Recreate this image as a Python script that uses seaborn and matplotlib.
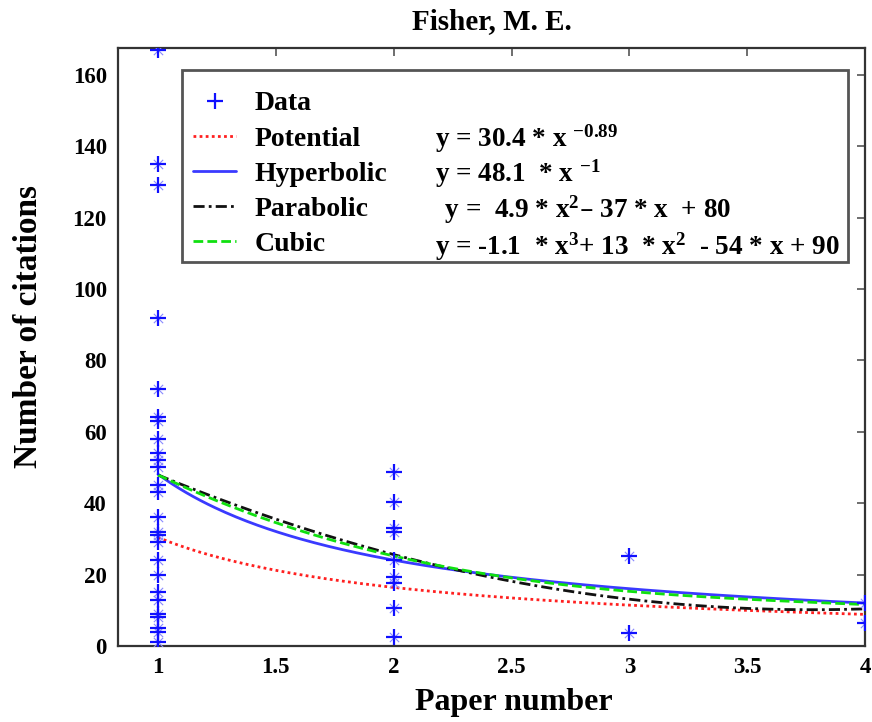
import numpy as np
import pandas as pd
import matplotlib
matplotlib.use("Agg")
import matplotlib.pyplot as plt
import seaborn as sns
from matplotlib.lines import Line2D
from matplotlib.patches import Rectangle

# ---- data ----
paper_x1 = [1] * 26
cites_x1 = [167, 135, 129, 92, 72, 64, 63, 58, 54, 52, 50, 45, 43, 36, 32, 31,
            29, 24, 20, 15, 13, 9, 8, 5, 4, 1]
paper_x2 = [2] * 9
cites_x2 = [48.8, 40.4, 33, 32, 24, 19.4, 17.6, 10.6, 2.6]
paper_x3 = [3, 3]
cites_x3 = [25.3, 3.6]
paper_x4 = [4, 4]
cites_x4 = [12, 6.4]

# fit coefficients (from legend)
pot_coef = [30.4, -0.89]
hyp_coef = [48.1]
par_coef = [4.9, -37, 80]
cub_coef = [-1.1, 13, -54, 90]

series_names = ["Potential", "Hyperbolic", "Parabolic", "Cubic"]
equations = [r"y = 30.4 * x $^{-0.89}$",
             r"y = 48.1  * x $^{-1}$",
             r" y =  4.9 * x$^{2}$– 37 * x  + 80",
             r"y = -1.1  * x$^{3}$+ 13  * x$^{2}$  - 54 * x + 90"]

data = pd.DataFrame({
    "paper": paper_x1 + paper_x2 + paper_x3 + paper_x4,
    "cites": cites_x1 + cites_x2 + cites_x3 + cites_x4,
})

xs = np.linspace(1, 4, 200)
fits = pd.DataFrame({
    "x": np.tile(xs, 4),
    "y": np.concatenate([
        pot_coef[0] * xs ** pot_coef[1],
        hyp_coef[0] / xs,
        np.polyval(par_coef, xs),
        np.polyval(cub_coef, xs),
    ]),
    "fit": np.repeat(series_names, len(xs)),
})

sns.set_theme(style="white")
plt.rcParams["font.family"] = ["Liberation Serif", "DejaVu Serif"]
plt.rcParams["mathtext.default"] = "regular"
plt.rcParams["text.color"] = "black"
plt.rcParams["axes.labelcolor"] = "black"
plt.rcParams["xtick.color"] = "black"
plt.rcParams["ytick.color"] = "black"

fig = plt.figure(figsize=(8.72, 7.22), dpi=100)
ax = fig.add_axes([0.1353, 0.1053, 0.8567, 0.8282])

styles = {
    "Potential": dict(color="#ff2020", ls=(0, (1, 1.2)), lw=2.0),
    "Hyperbolic": dict(color="#3a3aff", ls="-", lw=2.0),
    "Parabolic": dict(color="#111111", ls=(0, (4, 1.5, 1, 1.5)), lw=2.0),
    "Cubic": dict(color="#10e010", ls=(0, (3.5, 1.5)), lw=2.0),
}
for name in series_names:
    sub = fits[fits["fit"] == name]
    st = styles[name]
    sns.lineplot(data=sub, x="x", y="y", ax=ax, color=st["color"],
                 linestyle=st["ls"], linewidth=st["lw"], legend=False,
                 zorder=3)

# asterisk-like markers
sns.scatterplot(data=data, x="paper", y="cites", ax=ax, marker="x",
                s=45, linewidth=0.8, color="#8a8aff", zorder=4, legend=False)
sns.scatterplot(data=data, x="paper", y="cites", ax=ax, marker="+",
                s=130, linewidth=1.6, color="#1010ff", zorder=5, legend=False)

ax.set_xlim(0.83, 4.0)
ax.set_ylim(0, 167.5)
ax.set_xticks([1, 1.5, 2, 2.5, 3, 3.5, 4])
ax.set_xticklabels(["1", "1.5", "2", "2.5", "3", "3.5", "4"])
ax.set_yticks(range(0, 161, 20))
ax.tick_params(direction="in", length=6, width=1.2, color="#555555",
               labelcolor="black", top=True, right=True, labelsize=16.5, pad=8)
for lab in ax.get_xticklabels() + ax.get_yticklabels():
    lab.set_fontweight("bold")
for sp in ax.spines.values():
    sp.set_color("#333333")
    sp.set_linewidth(1.6)

ax.set_xlabel("Paper number", fontsize=23, fontweight="bold", color="black")
ax.xaxis.set_label_coords(0.530, -0.0704)
ax.set_ylabel("Number of citations", fontsize=24, fontweight="bold", color="black")
ax.yaxis.set_label_coords(-0.099, 0.535)
ax.set_title("Fisher, M. E.", fontsize=21, fontweight="bold", pad=14, color="black")

# legend frame
ax.add_patch(Rectangle((0.0857, 0.642), 0.891, 0.321, transform=ax.transAxes,
                       facecolor="white", edgecolor="#555555", linewidth=2.0,
                       zorder=8))

handles = [Line2D([], [], marker="+", ls="none", color="#1010ff", ms=11, mew=1.6)]
for name in series_names:
    st = styles[name]
    handles.append(Line2D([], [], color=st["color"], ls=st["ls"], lw=st["lw"]))
labels = ["Data"] + series_names
leg = ax.legend(handles, labels, loc="upper left",
                bbox_to_anchor=(0.1004, 0.9281),
                fontsize=20, frameon=False,
                handlelength=1.55, handletextpad=0.67, labelspacing=0.35,
                borderpad=0.0, borderaxespad=0.0)
leg.set_zorder(9)
for t in leg.get_texts():
    t.set_fontweight("bold")
    t.set_color("black")

row_y = [0.8485, 0.790, 0.7298, 0.668]
row_x = [0.425, 0.425, 0.428, 0.425]
for eq, yy, xx in zip(equations, row_y, row_x):
    ax.text(xx, yy, eq, transform=ax.transAxes, fontsize=19.5, color="black",
            fontweight="bold", va="center", ha="left", zorder=10)

fig.savefig("out.png", dpi=100)
